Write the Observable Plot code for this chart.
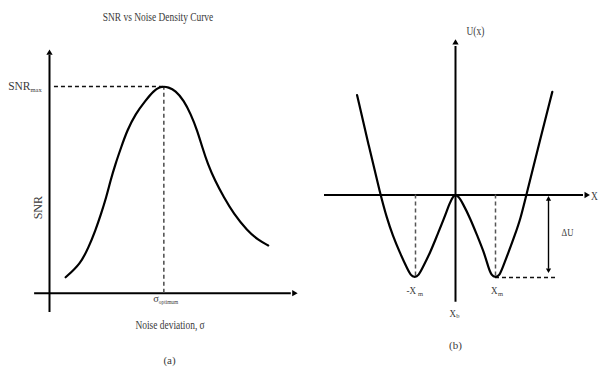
<!DOCTYPE html>
<html><head><meta charset="utf-8">
<script src="https://cdn.jsdelivr.net/npm/d3@7"></script>
<script src="https://cdn.jsdelivr.net/npm/@observablehq/plot@0.6"></script>
<style>
body{margin:0;background:#fff}
#wrap{display:flex;width:600px;height:367px;overflow:hidden}
#wrap svg{display:block}
</style>
</head><body><div id="wrap"></div>
<script>
// ---------- Panel (a): SNR vs noise deviation ----------
const sigma = [0.65, 1.25, 1.58, 1.85, 2.08, 2.29, 2.46, 2.66, 2.89, 3.13, 3.47, 3.87, 4.21, 4.45, 4.61, 4.78,
               5.08, 5.42, 5.69, 5.96, 6.16, 6.38, 6.67, 7.03, 7.43, 7.97, 8.44, 8.82];
const snr   = [0.77, 1.42, 2.23, 3.03, 3.84, 4.64, 5.45, 6.26, 7.06, 7.87, 8.68, 9.32, 9.81, 9.97, 10, 9.97,
               9.81, 9.32, 8.68, 7.87, 7.06, 6.26, 5.45, 4.64, 3.84, 3.03, 2.55, 2.31];
const sigmaOpt = 4.61;
const snrMax = 10;
const titleA = "SNR vs Noise Density Curve";
const xLabelA = "Noise deviation, σ";
const yLabelA = "SNR";

// ---------- Panel (b): double-well potential U(x) ----------
const xPos = [-2.46, -2.17, -1.875, -1.71, -1.57, -1.40, -1.21, -1.12, -1.02, -0.92, -0.83, -0.625, -0.46, -0.29, -0.14, -0.06, 0,
              0.07, 0.17, 0.375, 0.54, 0.71, 0.83, 0.90, 1.0, 1.10, 1.17, 1.33, 1.48, 1.625, 1.77, 2.08, 2.42];
const uVal = [1.21, 0.60, 0, -0.29, -0.49, -0.69, -0.89, -0.975, -1.0, -0.975, -0.89, -0.69, -0.49, -0.29, -0.09, -0.015, 0,
              -0.015, -0.09, -0.29, -0.49, -0.69, -0.89, -0.975, -1.0, -0.975, -0.89, -0.69, -0.49, -0.29, 0, 0.60, 1.25];
const xm = 1.0;
const deltaU = 1.0;

const FONT = "Liberation Serif";
const TXT = "#3a3a3a";
const DASH = "4,3";

const curveA = sigma.map((s, i) => ({x: s, y: snr[i]}));
const curveB = xPos.map((s, i) => ({x: s, y: uVal[i]}));

const txt = (data, o) => Plot.text(data, {fontFamily: FONT, fill: TXT, fontSize: 11.5, text: d => d, ...o});

const plotA = Plot.plot({
  width: 300, height: 367, margin: 0,
  x: {domain: [0, 10], range: [49, 297], axis: null},
  y: {domain: [0, 11.84], range: [292.7, 48], axis: null},
  marks: [
    Plot.ruleX([0], {y1: -0.93, y2: 11.5, strokeWidth: 2, stroke: "#000"}),
    Plot.ruleY([0], {x1: -0.6, x2: 9.75, strokeWidth: 2, stroke: "#000"}),
    Plot.dot([{x: 0, y: 11.62}], {x: "x", y: "y", symbol: "triangle2", r: 3, fill: "#000", stroke: null}),
    Plot.dot([{x: 9.86, y: 0}], {x: "x", y: "y", symbol: "triangle2", r: 3, fill: "#000", stroke: null, rotate: 90}),
    Plot.ruleY([snrMax], {x1: 0.2, x2: sigmaOpt, strokeDasharray: DASH, strokeWidth: 1.6, stroke: "#111"}),
    Plot.ruleX([sigmaOpt], {y1: 0, y2: snrMax, strokeDasharray: DASH, strokeWidth: 1.6, stroke: "#555"}),
    Plot.line(curveA, {x: "x", y: "y", curve: "basis", strokeWidth: 2.2, stroke: "#000"}),
    txt([titleA], {x: 4.375, y: 13.34}),
    txt(["SNR"], {x: 0, y: snrMax, textAnchor: "end", dx: -19}),
    txt(["max"], {x: 0, y: snrMax, textAnchor: "start", dx: -19, dy: 3, fontSize: 6.5}),
    txt(["σ"], {x: sigmaOpt, y: 0, textAnchor: "end", dx: -5, dy: 5, fontSize: 10.5}),
    txt(["optimum"], {x: sigmaOpt, y: 0, textAnchor: "start", dx: -5, dy: 9, fontSize: 6.5}),
    txt([xLabelA], {x: 4.86, y: -1.56}),
    txt([yLabelA], {x: -0.44, y: 4.14, rotate: -90, fontSize: 12}),
    txt(["(a)"], {x: 4.84, y: -3.26, fontSize: 11})
  ]
});

const plotB = Plot.plot({
  width: 300, height: 367, margin: 0,
  x: {domain: [-1, 1], range: [115, 195], axis: null},
  y: {domain: [-1, 0], range: [277, 194.5], axis: null},
  marks: [
    Plot.ruleY([0], {x1: -3.275, x2: 3.2, strokeWidth: 2, stroke: "#000"}),
    Plot.ruleX([0], {y1: -1.3, y2: 1.8, strokeWidth: 2, stroke: "#000"}),
    Plot.dot([{x: 3.27, y: 0}], {x: "x", y: "y", symbol: "triangle2", r: 3, fill: "#000", stroke: null, rotate: 90}),
    Plot.dot([{x: 0, y: 1.845}], {x: "x", y: "y", symbol: "triangle2", r: 3, fill: "#000", stroke: null}),
    Plot.ruleX([-xm, xm], {y1: 0, y2: -deltaU, strokeDasharray: DASH, strokeWidth: 1.5, stroke: "#555"}),
    Plot.ruleY([-deltaU], {x1: xm, x2: 2.575, strokeDasharray: DASH, strokeWidth: 1.6, stroke: "#111"}),
    Plot.ruleX([2.325], {y1: -0.06, y2: -0.9, strokeWidth: 1.4, stroke: "#000"}),
    Plot.dot([{x: 2.325, y: -0.05}], {x: "x", y: "y", symbol: "triangle2", r: 2.5, fill: "#000", stroke: null}),
    Plot.dot([{x: 2.325, y: -0.91}], {x: "x", y: "y", symbol: "triangle2", r: 2.5, fill: "#000", stroke: null, rotate: 180}),
    Plot.line(curveB, {x: "x", y: "y", curve: "basis", strokeWidth: 2.2, stroke: "#000"}),
    txt(["U(x)"], {x: 0.275, y: 1.99, textAnchor: "start"}),
    txt(["X"], {x: 3.39, y: 0, textAnchor: "start", dy: 1}),
    txt(["ΔU"], {x: 2.8, y: -0.455, fontSize: 10.5}),
    txt(["-X"], {x: -xm, y: -deltaU, textAnchor: "end", dx: 0.5, dy: 13, fontSize: 11}),
    txt(["m"], {x: -xm, y: -deltaU, textAnchor: "start", dx: 2.5, dy: 16, fontSize: 6.5}),
    txt(["X"], {x: xm, y: -deltaU, textAnchor: "end", dx: 2, dy: 13, fontSize: 11}),
    txt(["m"], {x: xm, y: -deltaU, textAnchor: "start", dx: 2.5, dy: 16, fontSize: 6.5}),
    txt(["X"], {x: 0, y: -1.43, textAnchor: "end", dx: 0.5, fontSize: 11}),
    txt(["b"], {x: 0, y: -1.43, textAnchor: "start", dx: 0.8, dy: 3, fontSize: 6.5}),
    txt(["(b)"], {x: 0, y: -1.82, fontSize: 11})
  ]
});

const wrap = document.getElementById("wrap");
wrap.append(plotA, plotB);

// condensed serif look of the original typesetting
const condensed = new Set([titleA, xLabelA, "U(x)", "ΔU", "X", "-X", "optimum"]);
wrap.querySelectorAll("text").forEach(el => {
  const s = el.textContent;
  if (!condensed.has(s)) return;
  const L = el.getComputedTextLength();
  el.setAttribute("textLength", (L * 0.82).toFixed(1));
  el.setAttribute("lengthAdjust", "spacingAndGlyphs");
});
</script>
</body></html>
